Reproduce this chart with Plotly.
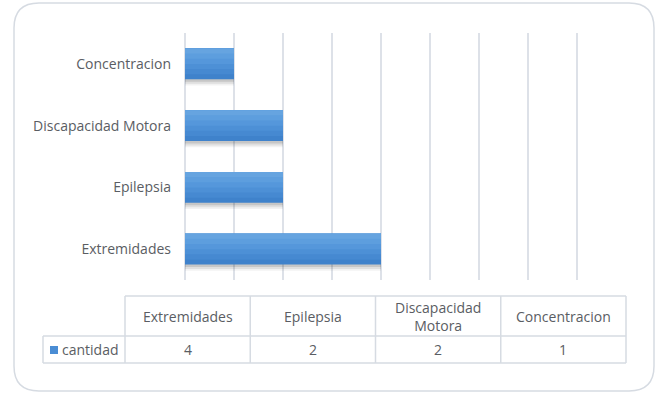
import plotly.graph_objects as go

categories = ["Extremidades", "Epilepsia", "Discapacidad Motora", "Concentracion"]
table_headers = ["Extremidades", "Epilepsia", "Discapacidad<br>Motora", "Concentracion"]
values = [4, 2, 2, 1]
series_name = "cantidad"
x_max = 9

W, H = 660, 393
def px(x):
    return x / W
def py(y):
    return 1 - y / H

FONT = "Open Sans"
FS = 14
TXT = "#5a5d63"
GRID = "#dde1e8"
BORDER = "#d6dbe2"

fig = go.Figure()

bw = 0.5
# shadows
for dy, a in [(0.10, 0.05), (0.07, 0.08), (0.04, 0.11)]:
    fig.add_trace(go.Bar(
        y=categories, x=values, orientation="h", width=bw,
        offset=-bw / 2 - dy, marker=dict(color=f"rgba(0,0,0,{a})", line=dict(width=0)),
        hoverinfo="skip", showlegend=False))
# gradient layers (bottom dark -> top light)
grad = ["#3f82cb", "#4689d1", "#4d90d6", "#5597db", "#5d9ede", "#66a4e0"]
n = len(grad)
for i, c in enumerate(grad):
    fig.add_trace(go.Bar(
        y=categories, x=values, orientation="h", width=bw - i * bw / n,
        offset=-bw / 2 + i * bw / n, marker=dict(color=c, line=dict(width=0)),
        name=series_name, showlegend=False))

fig.update_layout(
    width=W, height=H,
    margin=dict(l=0, r=0, t=0, b=0),
    paper_bgcolor="white", plot_bgcolor="white",
    barmode="overlay",
    font=dict(family=FONT, size=FS, color=TXT),
    xaxis=dict(domain=[px(185), px(626)], range=[0, x_max], dtick=1,
               showticklabels=False, showgrid=True, gridcolor=GRID, gridwidth=1.5,
               zeroline=True, zerolinecolor=GRID, zerolinewidth=1.5, showline=False),
    yaxis=dict(domain=[py(280), py(33)], categoryorder="array", categoryarray=categories,
               showgrid=False, showline=False, ticks="", ticklabelstandoff=13,
               tickfont=dict(family=FONT, size=FS, color=TXT)),
)

shapes = []
# rounded outer border
x0, x1, y0, y1, r = px(14), px(654), py(3), py(391), 25
rx, ry = r / W, r / H
path = (f"M {x0+rx},{y0} L {x1-rx},{y0} Q {x1},{y0} {x1},{y0-ry} "
        f"L {x1},{y1+ry} Q {x1},{y1} {x1-rx},{y1} L {x0+rx},{y1} "
        f"Q {x0},{y1} {x0},{y1+ry} L {x0},{y0-ry} Q {x0},{y0} {x0+rx},{y0} Z")
shapes.append(dict(type="path", path=path, xref="paper", yref="paper",
                   line=dict(color=BORDER, width=1.5)))

# data table
tx0, tx1 = 125, 626
lx0 = 43
yh0, yh1, yd1 = 296, 336, 363
ncol = len(categories)
cw = (tx1 - tx0) / ncol
def hline(xa, xb, y):
    shapes.append(dict(type="line", xref="paper", yref="paper", x0=px(xa), x1=px(xb),
                       y0=py(y), y1=py(y), line=dict(color=BORDER, width=1.5)))
def vline(x, ya, yb):
    shapes.append(dict(type="line", xref="paper", yref="paper", x0=px(x), x1=px(x),
                       y0=py(ya), y1=py(yb), line=dict(color=BORDER, width=1.5)))
hline(tx0, tx1, yh0)
hline(lx0, tx1, yh1)
hline(lx0, tx1, yd1)
vline(lx0, yh1, yd1)
for i in range(ncol + 1):
    vline(tx0 + i * cw, yh0, yd1)

annotations = []
for i in range(ncol):
    cx = tx0 + (i + 0.5) * cw
    annotations.append(dict(x=px(cx), y=py((yh0 + yh1) / 2), xref="paper", yref="paper",
                            xanchor="center", yanchor="middle",
                            text=table_headers[i], showarrow=False,
                            font=dict(family=FONT, size=FS, color=TXT)))
    annotations.append(dict(x=px(cx), y=py((yh1 + yd1) / 2), xref="paper", yref="paper",
                            xanchor="center", yanchor="middle",
                            text=str(values[i]), showarrow=False,
                            font=dict(family=FONT, size=FS, color=TXT)))
# legend key in table
shapes.append(dict(type="rect", xref="paper", yref="paper", x0=px(50), x1=px(58),
                   y0=py(354), y1=py(346), fillcolor="#4a8dd4", line=dict(width=0)))
annotations.append(dict(x=px(60), y=py((yh1 + yd1) / 2), xref="paper", yref="paper",
                        xanchor="left", yanchor="middle", text=series_name, showarrow=False,
                        font=dict(family=FONT, size=FS, color=TXT)))

fig.update_layout(shapes=shapes, annotations=annotations)
fig.write_html("out.html", config={"displayModeBar": False},
               post_script="document.body.style.margin='0';")
